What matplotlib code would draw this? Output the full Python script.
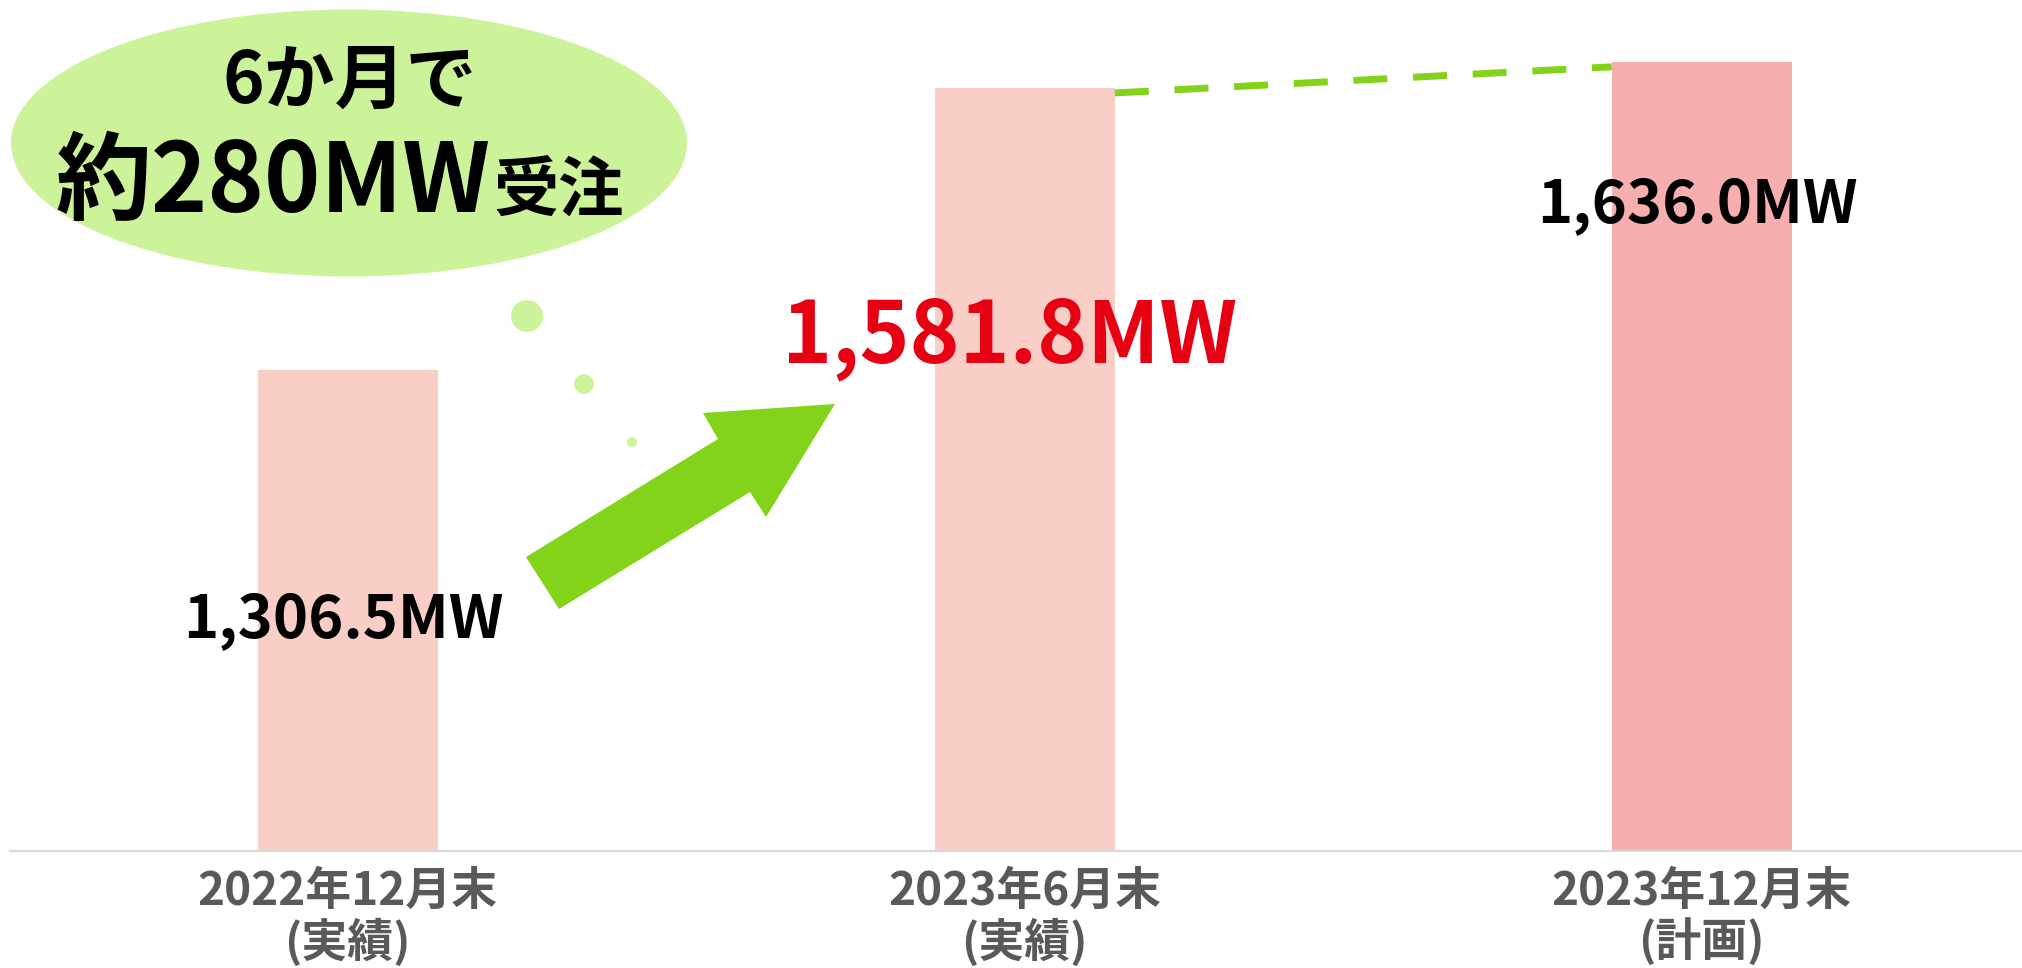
import matplotlib
matplotlib.use("Agg")
import matplotlib.pyplot as plt
from matplotlib.patches import Ellipse, Circle, Polygon

# data
categories = ["2022年12月末\n(実績)", "2023年6月末\n(実績)", "2023年12月末\n(計画)"]
values = [1306.5, 1581.8, 1636.0]          # MW, shown as labels
bar_heights = [997.0, 1581.8, 1636.0]      # as drawn in the source (first bar not to scale)
bar_colors = ["#f9cec6", "#f9cec6", "#f7aeae"]
label_colors = ["#000000", "#e60012", "#000000"]
bubble_lines = ["6か月で", "約280MW", "受注"]

W, H = 2022, 968
FONT = ["Noto Sans CJK JP", "DejaVu Sans"]
GREEN = "#83d31a"
LIGHT_GREEN = "#ccf29a"

fig = plt.figure(figsize=(W / 100, H / 100), dpi=100)
base_px = 851
ax = fig.add_axes([10 / W, (H - base_px) / H, (W - 10) / W, base_px / H])

x = list(range(len(categories)))
bw = 0.266
ax.bar(x, bar_heights, width=bw, color=bar_colors, zorder=2)
ax.set_xlim(-0.499, 2.473)
ax.set_ylim(0, 1636.0 * base_px / 789)

for s in ["top", "right", "left"]:
    ax.spines[s].set_visible(False)
ax.spines["bottom"].set_color("#d9d9d9")
ax.spines["bottom"].set_linewidth(1.6)
ax.set_yticks([])
ax.set_xticks(x)
ax.set_xticklabels(categories, fontsize=33, color="#595959", fontweight="bold",
                   family=FONT, linespacing=1.08)
ax.tick_params(axis="x", length=0, pad=13)

# dashed connector between the last two bars
ax.plot([1 + bw / 2, 2 - bw / 2], [bar_heights[1] - 10, bar_heights[2] - 10], color=GREEN,
        lw=5, dashes=(4.9, 3.7), dash_capstyle="butt", zorder=3)

# value labels
ylab = [477, 1064, 1338]
xoff = [-0.007, -0.022, -0.007]
sizes = [43, 61, 43]
for i, v in enumerate(values):
    ax.text(i + xoff[i], ylab[i], f"{v:,.1f}MW", ha="center", va="center",
            fontsize=sizes[i], fontweight="bold", color=label_colors[i],
            family=FONT, zorder=4)

# overlay in pixel coordinates for the callout and arrow
ov = fig.add_axes([0, 0, 1, 1])
ov.set_xlim(0, W)
ov.set_ylim(H, 0)
ov.axis("off")

ov.add_patch(Ellipse((349, 143), 676, 267, color=LIGHT_GREEN, lw=0))
for cx, cy, r in [(527, 316, 16), (584, 384, 10), (632, 442, 5)]:
    ov.add_patch(Circle((cx, cy), r, color=LIGHT_GREEN, lw=0))

ov.text(350, 103, bubble_lines[0], ha="center", va="baseline", fontsize=51,
        fontweight="bold", family=FONT)
ov.text(490, 212, bubble_lines[1], ha="right", va="baseline", fontsize=69,
        fontweight="bold", family=FONT)
ov.text(494, 212, bubble_lines[2], ha="left", va="baseline", fontsize=47,
        fontweight="bold", family=FONT)

arrow = [(526, 557), (718, 439), (703, 413), (835, 404),
         (766, 517), (750, 492), (559, 609)]
ov.add_patch(Polygon(arrow, closed=True, color=GREEN, lw=0))

fig.savefig("out.png", dpi=100)
